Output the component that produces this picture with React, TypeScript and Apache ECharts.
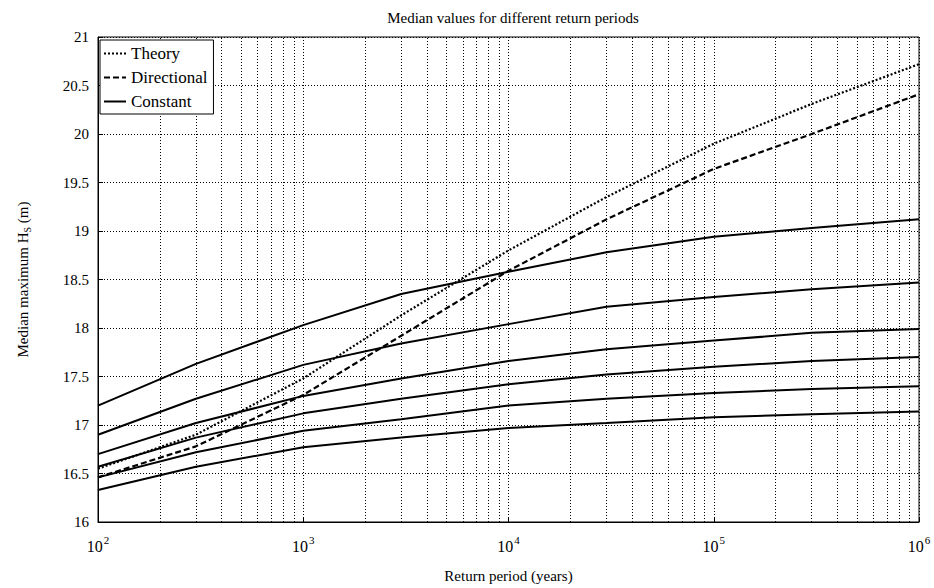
import React, { useEffect, useRef } from "react";
import * as echarts from "echarts";

const returnPeriods = [100, 300, 1000, 3000, 10000, 30000, 100000, 300000, 1000000];
const theory = [16.55, 16.9, 17.48, 18.13, 18.8, 19.35, 19.9, 20.31, 20.72];
const directional = [16.46, 16.78, 17.31, 17.92, 18.59, 19.12, 19.64, 20.0, 20.41];
const constant1 = [17.2, 17.63, 18.03, 18.35, 18.58, 18.78, 18.94, 19.03, 19.12];
const constant2 = [16.9, 17.27, 17.62, 17.84, 18.04, 18.22, 18.32, 18.4, 18.47];
const constant3 = [16.7, 17.02, 17.3, 17.48, 17.66, 17.78, 17.87, 17.95, 17.99];
const constant4 = [16.57, 16.87, 17.12, 17.27, 17.42, 17.52, 17.6, 17.66, 17.7];
const constant5 = [16.46, 16.72, 16.94, 17.06, 17.2, 17.27, 17.33, 17.37, 17.4];
const constant6 = [16.33, 16.57, 16.77, 16.87, 16.97, 17.02, 17.08, 17.11, 17.14];
const constants = [constant1, constant2, constant3, constant4, constant5, constant6];

const decades = [100, 1000, 10000, 100000];
const minorMultipliers = [2, 3, 4, 5, 6, 7, 8, 9];

const FONT = "Liberation Serif";

export default function App() {
  const ref = useRef<HTMLDivElement>(null);
  useEffect(() => {
    if (!ref.current) return;
    const chart = echarts.init(ref.current, null, { renderer: "svg" });
    const pairs = (ys: number[]) => returnPeriods.map((x, i) => [x, ys[i]]);
    const minorLines: any[] = [];
    decades.forEach((d) => minorMultipliers.forEach((m) => minorLines.push({ xAxis: d * m })));
    const gridStyle = { color: "#000", width: 1, type: [1, 2] as any };

    const series: any[] = [
      {
        name: "Theory",
        type: "line",
        data: pairs(theory),
        symbol: "none",
        lineStyle: { color: "#000", width: 2.2, type: [2, 2] },
        itemStyle: { color: "#000" },
        z: 5,
        markLine: {
          silent: true,
          symbol: ["none", "none"],
          label: { show: false },
          lineStyle: gridStyle,
          emphasis: { disabled: true },
          data: minorLines,
          z: 1,
        },
      },
      {
        name: "Directional",
        type: "line",
        data: pairs(directional),
        symbol: "none",
        lineStyle: { color: "#000", width: 2.2, type: [6, 3] },
        itemStyle: { color: "#000" },
        z: 5,
      },
    ];
    constants.forEach((c) => {
      series.push({
        name: "Constant",
        type: "line",
        data: pairs(c),
        symbol: "none",
        lineStyle: { color: "#000", width: 2, type: "solid" },
        itemStyle: { color: "#000" },
        z: 4,
      });
    });

    chart.setOption({
      animation: false,
      backgroundColor: "#fff",
      textStyle: { fontFamily: FONT },
      title: {
        text: "Median values for different return periods",
        left: 508,
        top: 5,
        textAlign: "center",
        textStyle: { fontFamily: FONT, fontSize: 15, fontWeight: "normal", color: "#000" },
      },
      legend: {
        data: ["Theory", "Directional", "Constant"],
        orient: "vertical",
        left: 100,
        top: 40,
        itemWidth: 22,
        itemHeight: 10,
        itemGap: 7,
        padding: [5, 6, 4, 3],
        backgroundColor: "#fff",
        borderColor: "#000",
        borderWidth: 1,
        borderRadius: 0,
        selectedMode: false,
        itemStyle: { opacity: 0 },
        textStyle: { fontFamily: FONT, fontSize: 17, color: "#000" },
      },
      grid: {
        left: 98,
        right: 15,
        top: 37,
        bottom: 65,
        show: true,
        borderColor: "#000",
        borderWidth: 1,
        backgroundColor: "#fff",
      },
      xAxis: {
        type: "log",
        logBase: 10,
        min: 100,
        max: 1000000,
        name: "Return period (years)",
        nameLocation: "middle",
        nameGap: 46,
        nameTextStyle: { fontFamily: FONT, fontSize: 15, color: "#000" },
        axisLine: { show: true, lineStyle: { color: "#000" } },
        axisTick: { show: true, inside: true, length: 5, lineStyle: { color: "#000" } },
        splitLine: { show: true, lineStyle: gridStyle },
        axisLabel: {
          margin: 12,
          color: "#000",
          formatter: (v: number) => `{b|10}{s|${Math.round(Math.log10(v))}}`,
          rich: {
            b: { fontFamily: FONT, fontSize: 16, color: "#000", lineHeight: 20, verticalAlign: "bottom" },
            s: { fontFamily: FONT, fontSize: 11, color: "#000", lineHeight: 20, verticalAlign: "top", padding: [0, 0, 10, 1] },
          },
        },
      },
      yAxis: {
        type: "value",
        min: 16,
        max: 21,
        interval: 0.5,
        name: "{n|Median maximum H}{sub|S}{n| (m)}",
        nameLocation: "middle",
        nameGap: 66,
        nameRotate: 90,
        nameTextStyle: {
          rich: {
            n: { fontFamily: FONT, fontSize: 15, color: "#000" },
            sub: { fontFamily: FONT, fontSize: 10, color: "#000", padding: [8, 0, 0, 0] },
          },
        },
        axisLine: { show: true, lineStyle: { color: "#000" } },
        axisTick: { show: true, inside: true, length: 5, lineStyle: { color: "#000" } },
        splitLine: { show: true, lineStyle: gridStyle },
        axisLabel: { fontFamily: FONT, fontSize: 15, color: "#000", margin: 9 },
      },
      series,
    });
    return () => chart.dispose();
  }, []);
  return <div ref={ref} style={{ width: 934, height: 588, position: "absolute", left: 0, top: 0 }} />;
}
